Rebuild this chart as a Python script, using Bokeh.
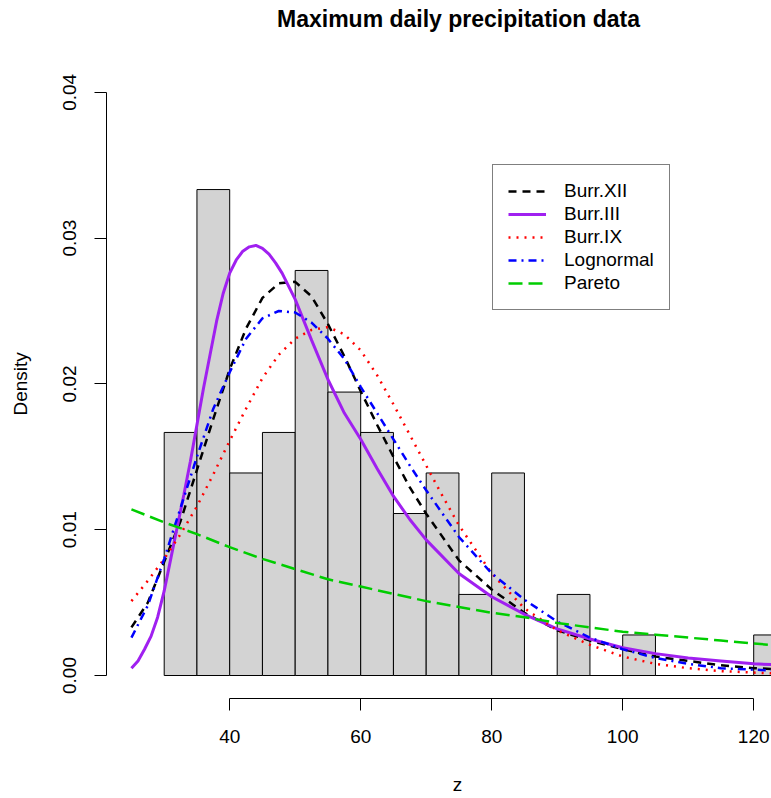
import math
from bokeh.plotting import figure
from bokeh.models import (Range1d, FixedTicker, NumeralTickFormatter, LinearAxis,
                          Legend, LegendItem)
from bokeh.core.properties import value
from bokeh.embed import file_html
from bokeh.resources import INLINE

# ---------------- data ----------------
title_text = "Maximum daily precipitation data"
x_label = "z"
y_label = "Density"

bin_left = [30, 35, 40, 45, 50, 55, 60, 65, 70, 75, 80, 85, 90, 95, 100, 105, 110, 115, 120]
bin_right = [35, 40, 45, 50, 55, 60, 65, 70, 75, 80, 85, 90, 95, 100, 105, 110, 115, 120, 125]
bin_density = [0.01667, 0.03333, 0.01389, 0.01667, 0.02778, 0.01944, 0.01667, 0.01111,
               0.01389, 0.00556, 0.01389, 0.0, 0.00556, 0.0, 0.00278, 0.0, 0.0, 0.0, 0.00278]

x_ticks = [40, 60, 80, 100, 120]
y_ticks = [0.0, 0.01, 0.02, 0.03, 0.04]

burr12_x = [25, 27.5, 30, 32.5, 35, 37.5, 40, 42.5, 45, 47.5, 50, 52.5, 55, 57.5, 60, 62.5,
            65, 67.5, 70, 75, 80, 85, 90, 95, 100, 105, 110, 115, 120, 125]
burr12_y = [0.0033, 0.0050, 0.0078, 0.0106, 0.0141, 0.0176, 0.0210, 0.0238, 0.0259, 0.0269,
            0.0270, 0.0260, 0.0241, 0.0219, 0.0195, 0.0172, 0.0150, 0.0129, 0.0111, 0.0079,
            0.0059, 0.0043, 0.0031, 0.0024, 0.0018, 0.0013, 0.0010, 0.0007, 0.0005, 0.0004]

burr3_x = [25, 26, 27, 28, 29, 30, 31, 32, 33, 34, 35, 36, 37, 38, 39, 40, 41, 42, 43, 44, 45,
           46, 47, 48, 50, 52.5, 55, 57.5, 60, 62.5, 65, 67.5, 70, 75, 80, 85, 90, 95, 100,
           105, 110, 115, 120, 125]
burr3_y = [0.0005, 0.0010, 0.0018, 0.0027, 0.0040, 0.0058, 0.0080, 0.0102, 0.0124, 0.0147,
           0.0172, 0.0197, 0.0220, 0.0243, 0.0262, 0.0276, 0.0285, 0.0291, 0.0294, 0.0295,
           0.0293, 0.0289, 0.0283, 0.0276, 0.0258, 0.0230, 0.0203, 0.0180, 0.0162, 0.0142,
           0.0123, 0.0107, 0.0093, 0.0070, 0.0054, 0.0042, 0.0032, 0.0025, 0.0019, 0.0015,
           0.0012, 0.0010, 0.0008, 0.0007]

burr9_x = [25, 27.5, 30, 32.5, 35, 37.5, 40, 42.5, 45, 47.5, 50, 52.5, 55, 57.5, 60, 62.5,
           65, 67.5, 70, 72.5, 75, 80, 85, 90, 95, 100, 105, 110, 115, 120, 125]
burr9_y = [0.0051, 0.0065, 0.0080, 0.0097, 0.0116, 0.0138, 0.0161, 0.0183, 0.0204, 0.0220,
           0.0231, 0.0237, 0.0239, 0.0234, 0.0223, 0.0206, 0.0186, 0.0165, 0.0144, 0.0123,
           0.0103, 0.0070, 0.0046, 0.0031, 0.0021, 0.0013, 0.0008, 0.0005, 0.0003, 0.0002,
           0.0001]

lognorm_x = [25, 27.5, 30, 32.5, 35, 37.5, 40, 42.5, 45, 47.5, 50, 52.5, 55, 57.5, 60, 62.5,
             65, 67.5, 70, 75, 80, 85, 90, 95, 100, 105, 110, 115, 120, 125]
lognorm_y = [0.0026, 0.0048, 0.0080, 0.0115, 0.0150, 0.0183, 0.0208, 0.0231, 0.0245, 0.0250,
             0.0249, 0.0242, 0.0231, 0.0217, 0.0198, 0.0180, 0.0162, 0.0144, 0.0127, 0.0095,
             0.0070, 0.0052, 0.0037, 0.0026, 0.0018, 0.0012, 0.0008, 0.0005, 0.0004, 0.0003]

pareto_x = [25, 30, 35, 40, 45, 50, 55, 60, 65, 70, 75, 80, 85, 90, 95, 100, 105, 110, 115,
            120, 125]
pareto_y = [0.0114, 0.0105, 0.0097, 0.0088, 0.0080, 0.0073, 0.0066, 0.0061, 0.0056, 0.0051,
            0.0047, 0.0043, 0.0040, 0.0036, 0.0033, 0.0030, 0.0028, 0.0026, 0.0024, 0.0022,
            0.0020]

FONT = "Liberation Sans"
W, H = 771, 798

# ---- pixel layout (canvas pixels) -> data coordinates ----
PX_X40, PX_PER_X = 229.2, 6.55          # x = 40 at 229.2 px, 6.55 px per unit
PX_Y0, PX_PER_Y = 675.0, 14580.0        # y = 0 at 675 px, 14580 px per unit density


def dx(px):
    return 40 + (px - PX_X40) / PX_PER_X


def dy(py):
    return (PX_Y0 - py) / PX_PER_Y


p = figure(width=W, height=H, output_backend="svg", toolbar_location=None,
           x_range=Range1d(dx(0), dx(W)), y_range=Range1d(dy(H), dy(0)),
           x_axis_type=None, y_axis_type=None,
           min_border_left=0, min_border_right=0, min_border_top=0, min_border_bottom=0)
p.outline_line_color = None
p.background_fill_color = "white"
p.border_fill_color = "white"
p.xgrid.visible = False
p.ygrid.visible = False

xaxis = LinearAxis(ticker=FixedTicker(ticks=x_ticks), bounds=(x_ticks[0], x_ticks[-1]),
                   fixed_location=dy(698.3))
yaxis = LinearAxis(ticker=FixedTicker(ticks=y_ticks), bounds=(y_ticks[0], y_ticks[-1]),
                   fixed_location=dx(105.7), formatter=NumeralTickFormatter(format="0.00"))
for ax in (xaxis, yaxis):
    ax.axis_line_color = "black"
    ax.axis_line_width = 1
    ax.major_tick_line_color = "black"
    ax.major_tick_in = 0
    ax.major_tick_out = 12
    ax.minor_tick_line_color = None
    ax.major_label_text_font = FONT
    ax.major_label_text_font_size = "19px"
    ax.major_label_text_color = "black"
xaxis.major_label_standoff = 19
yaxis.major_label_orientation = "vertical"
yaxis.major_label_standoff = 18
p.add_layout(xaxis, "below")
p.add_layout(yaxis, "left")

# histogram
p.quad(left=bin_left, right=bin_right, bottom=0, top=bin_density,
       fill_color="#D3D3D3", line_color="black", line_width=1)

# density curves
r1 = p.line(burr12_x, burr12_y, line_color="black", line_width=2.5, line_dash="8 6")
r2 = p.line(burr3_x, burr3_y, line_color="#A020F0", line_width=3)
r3 = p.line(burr9_x, burr9_y, line_color="#FF0000", line_width=2.5, line_dash="2 6")
r4 = p.line(lognorm_x, lognorm_y, line_color="#0000FF", line_width=2.5, line_dash="8 5 2 5")
r5 = p.line(pareto_x, pareto_y, line_color="#00CD00", line_width=2.5, line_dash="14 6")

legend = Legend(items=[LegendItem(label="Burr.XII", renderers=[r1]),
                       LegendItem(label="Burr.III", renderers=[r2]),
                       LegendItem(label="Burr.IX", renderers=[r3]),
                       LegendItem(label="Lognormal", renderers=[r4]),
                       LegendItem(label="Pareto", renderers=[r5])],
                location=(492, H - 310))
legend.label_text_font = FONT
legend.label_text_font_size = "19px"
legend.label_text_color = "black"
legend.glyph_width = 38
legend.glyph_height = 20
legend.label_standoff = 18
legend.padding = 15
legend.spacing = 1
legend.margin = 0
legend.border_line_color = "black"
legend.border_line_width = 1
legend.background_fill_color = "white"
legend.background_fill_alpha = 1.0
p.add_layout(legend, "center")

# title and axis titles (positions measured in canvas pixels)
p.text(x=[dx(458)], y=[dy(18.5)], text=[title_text], text_font=value(FONT),
       text_font_style="bold", text_font_size="23px", text_align="center",
       text_baseline="alphabetic", text_color="black")
p.text(x=[dx(457)], y=[dy(783.5)], text=[x_label], text_font=value(FONT),
       text_font_size="19px", text_align="center", text_baseline="alphabetic",
       text_color="black")
p.text(x=[dx(19.5)], y=[dy(383.4)], text=[y_label], text_font=value(FONT),
       text_font_size="19px", text_align="center", text_baseline="alphabetic",
       angle=math.pi / 2, text_color="black")

open("out.html", "w").write(file_html(p, INLINE))
